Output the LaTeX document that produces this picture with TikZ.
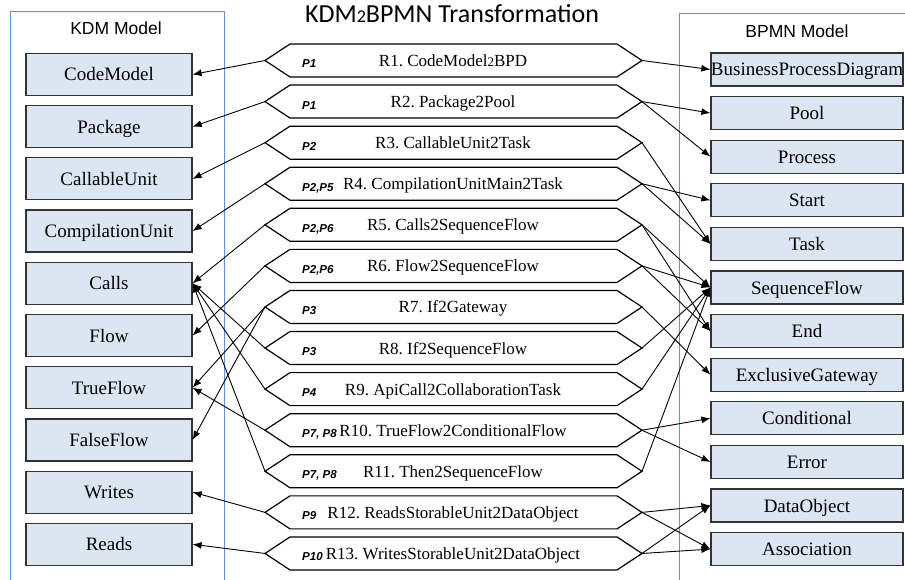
\documentclass[tikz,border=0pt]{standalone}
\usepackage{fontspec}
\setmainfont{Liberation Serif}
\setsansfont{Liberation Sans}
\newfontfamily\boxfont{Liberation Serif}
\newfontfamily\titlefont{Carlito}
\usetikzlibrary{arrows.meta}
\usetikzlibrary{positioning}

\definecolor{boxfill}{RGB}{220,230,242}
\definecolor{panelblue}{RGB}{95,150,225}
\newcommand\smtwo{{\fontsize{13}{13}\selectfont 2}}
\frenchspacing

\begin{document}
\begin{tikzpicture}[x=1pt,y=-1pt,
  kdmbox/.style={draw=black!80, line width=1.2pt, fill=boxfill, inner sep=0pt,
    minimum width=166pt, minimum height=42pt, text height=16pt, text depth=3pt,
    font=\boxfont\fontsize{19}{19}\selectfont},
  bpmnbox/.style={kdmbox, minimum width=192pt, minimum height=33pt},
  hexline/.style={line width=1.2pt},
  ruletext/.style={anchor=base, inner sep=0pt, font=\boxfont\fontsize{17}{17}\selectfont},
  plabel/.style={anchor=base west, inner sep=0pt,
    font=\sffamily\bfseries\itshape\fontsize{11.5}{12}\selectfont},
  panel/.style={draw=panelblue, line width=0.8pt},
  map/.style={-{Latex[length=9pt,width=7pt]}, line width=0.9pt}]
\clip (0,0) rectangle (905,580);

% panels
\draw[panel] (10,11) rectangle (224,600);
\draw[panel] (679,13) rectangle (920,600);
\node[anchor=base, font=\sffamily\fontsize{17.5}{18}\selectfont] (kdmtitle) at (116,35) {KDM Model};
\node[anchor=base, font=\sffamily\fontsize{17.5}{18}\selectfont] (bpmntitle) at (797,37.5) {BPMN Model};
\node[anchor=base, font=\titlefont\fontsize{26}{26}\selectfont] (title) at (452,23)
  {KDM{\fontsize{18}{18}\selectfont 2}BPMN Transformation};

% KDM elements
\foreach \n/\t [count=\i] in {cmod/CodeModel, pkg/Package, cunit/CallableUnit,
    compunit/CompilationUnit, calls/Calls, flow/Flow, tflow/TrueFlow,
    fflow/FalseFlow, writes/Writes, reads/Reads}
  \node[kdmbox] (\n) at (109,{74.5+52.2*(\i-1)}) {\t};

% BPMN elements
\foreach \n/\t [count=\i] in {bpd/BusinessProcessDiagram, pool/Pool, proc/Process,
    start/Start, task/Task, seqflow/SequenceFlow, endev/End,
    xgate/ExclusiveGateway, cond/Conditional, err/Error, dobj/DataObject,
    assoc/Association}
  \node[bpmnbox] (\n) at (807,{69.5+43.6*(\i-1)}) {\t};

% transformation rules
\foreach \t/\p [count=\i] in {R1. CodeModel\smtwo BPD/P1, R2. Package2Pool/P1,
    R3. CallableUnit2Task/P2, R4. CompilationUnitMain2Task/{P2,P5},
    R5. Calls2SequenceFlow/{P2,P6}, R6. Flow2SequenceFlow/{P2,P6},
    R7. If2Gateway/P3, R8. If2SequenceFlow/P3,
    R9. ApiCall2CollaborationTask/P4, R10. TrueFlow2ConditionalFlow/{P7, P8},
    R11. Then2SequenceFlow/{P7, P8}, R12. ReadsStorableUnit2DataObject/P9,
    R13. WritesStorableUnit2DataObject/P10}{
  \pgfmathsetmacro\y{60.5+41.08*(\i-1)}
  \draw[hexline] (265,\y) coordinate (l\i) -- (290,\y-16.5) -- (617,\y-16.5)
    -- (642,\y) coordinate (r\i) -- (617,\y+16.5) -- (290,\y+16.5) -- cycle;
  \node[ruletext] (t\i) at (453,\y+6) {\t};
  \node[plabel] (p\i) at (302,\y+7.5) {\p};
}

% rule -> KDM
\foreach \a/\b in {1/cmod, 2/pkg, 3/cunit, 4/compunit, 5/calls, 6/flow,
    7/tflow, 7/fflow, 8/calls, 9/calls, 10/tflow, 11/calls, 12/writes, 13/reads}
  \draw[map] (l\a) -- (\b.east);

% rule -> BPMN
\foreach \a/\b in {1/bpd, 2/pool, 2/proc, 3/task, 4/start, 4/task, 5/seqflow,
    5/endev, 6/seqflow, 6/endev, 7/xgate, 8/seqflow, 9/seqflow, 10/cond, 10/err,
    11/seqflow, 12/dobj, 12/assoc, 13/dobj, 13/assoc}
  \draw[map] (r\a) -- (\b.west);
\end{tikzpicture}
\end{document}
